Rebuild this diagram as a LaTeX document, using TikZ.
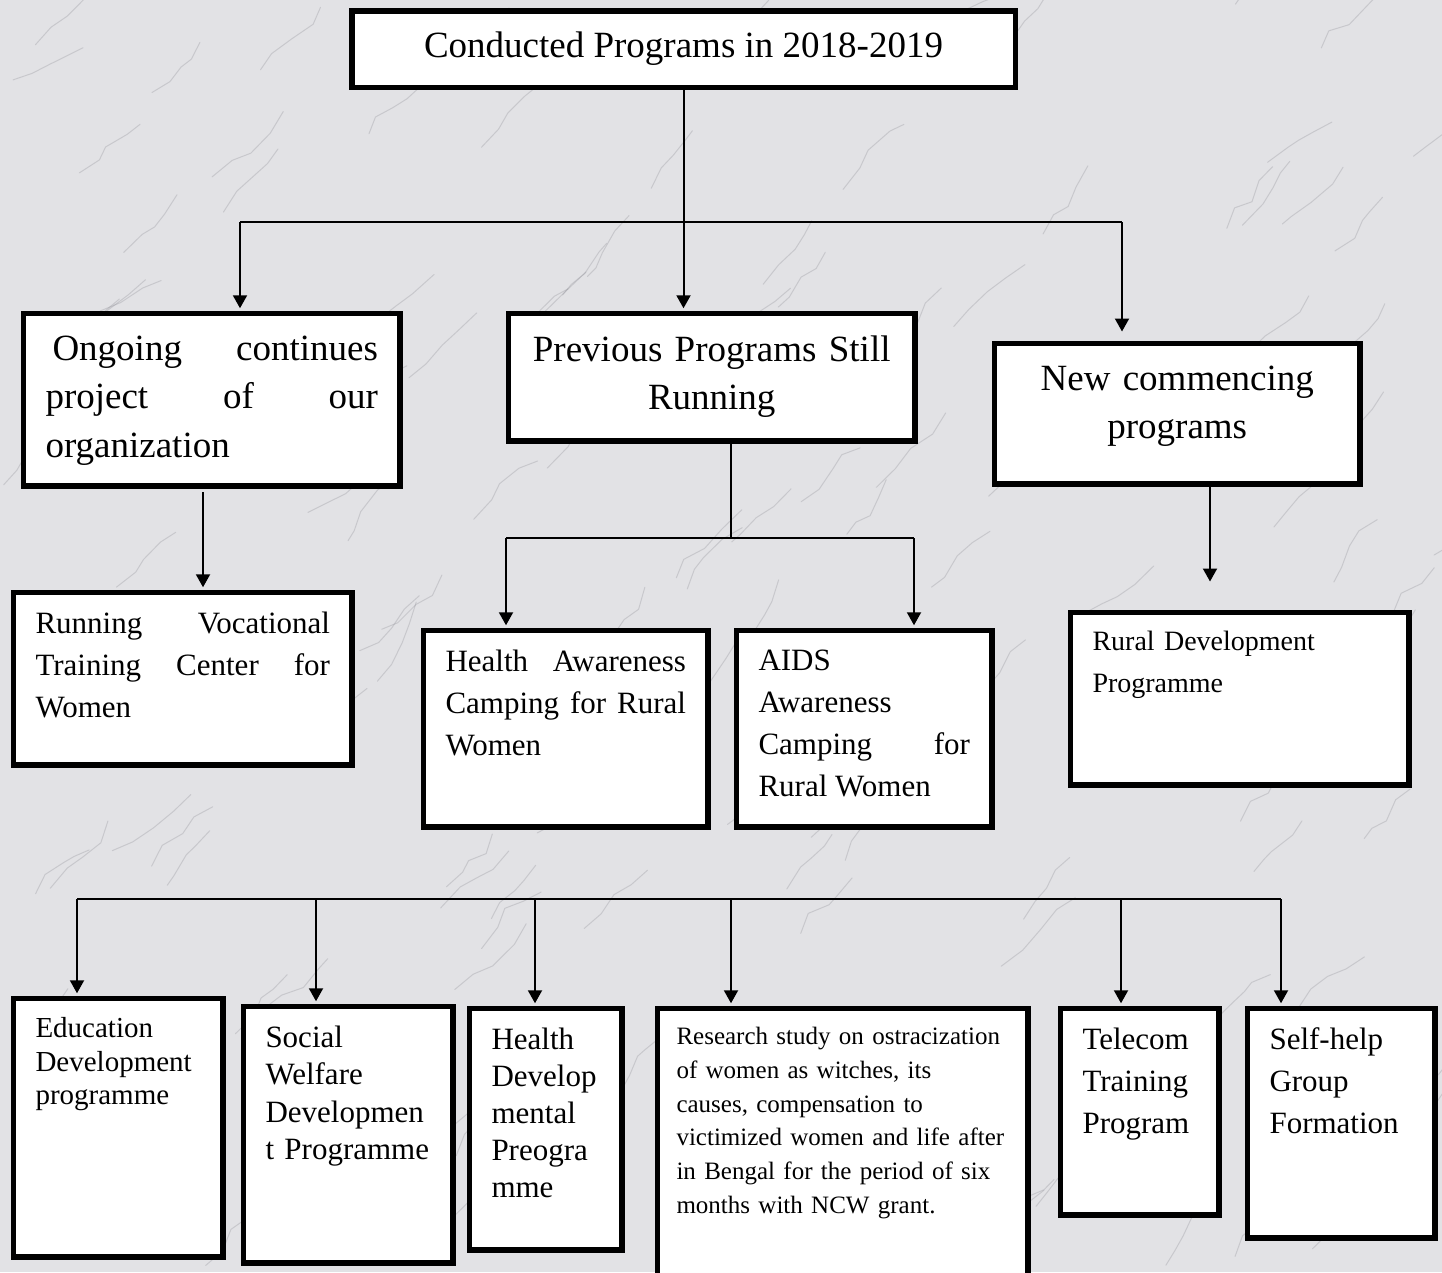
\documentclass[tikz,border=0pt]{standalone}
\usepackage{fontspec}
\setmainfont{Liberation Serif}
\usetikzlibrary{
  arrows.meta,
  positioning,
}
\newcommand{\progtext}[2]{\vbox to #1{\hyphenpenalty=10000 #2\par\vfil}}
\definecolor{marble}{RGB}{226,226,229}
\definecolor{veingray}{RGB}{140,140,148}
\tikzset{
  prog/.style={
    draw,
    line width=5.5pt,
    fill=white,
    anchor=north west,
    inner xsep=22pt,
    inner ysep=19pt,
    font=\fontsize{31}{42}\selectfont
  },
  prog big/.style={
    prog,
    inner ysep=22pt,
    font=\fontsize{37}{48.5}\selectfont
  },
  link/.style={
    line width=2pt
  },
  to box/.style={
    link,
    -{Triangle[length=13pt,width=14pt]},
    shorten >=2.5pt
  },
  vein/.style={
    draw=veingray,
    line width=1pt,
    opacity=0.3,
    line cap=round,
    line join=round
  }
}

\begin{document}
\begin{tikzpicture}[x=1pt,y=-1pt]
\useasboundingbox (0,0) rectangle (1442,1272);
\clip (0,0) rectangle (1442,1272);
\fill[marble] (0,0) rectangle (1442,1272);
% marble veins
\pgfmathsetseed{42}
\foreach \v in {1,...,140}{
  \pgfmathsetmacro\vx{rnd*1442}
  \pgfmathsetmacro\vy{rnd*1272}
  \draw[vein] (\vx,\vy) \foreach \s in {1,...,4}{ -- ++({6+rnd*16},{-6-rnd*16}) };
}

% level 0
\node[prog big, anchor=center, align=center, inner sep=0pt,
      minimum width=663.5pt, minimum height=76.5pt] (conducted) at (683.5,49)
  {Conducted Programs in 2018-2019};

% level 1
\node[prog big, text width=332.5pt, align=justify] (ongoing) at (20.75,310.75)
  {\progtext{128.5pt}{\hspace*{7pt}Ongoing continues\linebreak project of our\linebreak organization}};
\node[prog big, text width=362.5pt, align=center] (previous) at (505.75,310.75)
  {\progtext{83.5pt}{Previous Programs Still\\Running}};
\node[prog big, text width=321.5pt, align=center] (new) at (991.75,340.75)
  {\progtext{96.5pt}{New commencing\\programs}};

% level 2
\node[prog, text width=294.5pt, align=justify] (running) at (10.75,589.75)
  {\progtext{134.5pt}{Running Vocational\linebreak Training Center for\linebreak Women}};
\node[prog, text width=240.5pt, align=justify] (healthaw) at (420.75,627.75)
  {\progtext{158.5pt}{Health Awareness\linebreak Camping for Rural\linebreak Women}};
\node[prog, text width=211.5pt, align=justify] (aids) at (733.75,627.75)
  {\progtext{158.5pt}{AIDS\linebreak Awareness\linebreak Camping for\linebreak Rural Women}};
\node[prog, text width=294.5pt, align=left, font=\fontsize{28}{42}\selectfont] (rural) at (1067.75,609.75)
  {\progtext{134.5pt}{Rural Development\\Programme}};

% level 3
\node[prog, text width=165.5pt, align=left, font=\fontsize{29}{33.5}\selectfont] (education) at (10.75,995.75)
  {\progtext{220.5pt}{Education\\Development\\programme}};
\node[prog, text width=165.5pt, align=left, font=\fontsize{31}{37.5}\selectfont] (social) at (240.75,1003.75)
  {\progtext{218.5pt}{Social\\Welfare\\Developmen\\t Programme}};
\node[prog, text width=108.5pt, align=left, font=\fontsize{31}{37}\selectfont] (healthdev) at (466.75,1005.75)
  {\progtext{203.5pt}{Health\\Develop\\mental\\Preogra\\mme}};
\node[prog, text width=332.5pt, inner xsep=19pt, align=left, font=\fontsize{25}{33.7}\selectfont] (research) at (654.75,1005.75)
  {\progtext{243.5pt}{Research study on ostracization\\of women as witches, its\\causes, compensation to\\victimized women and life after\\in Bengal for the period of six\\months with NCW grant.}};
\node[prog, text width=114.5pt, align=left] (telecom) at (1057.75,1005.75)
  {\progtext{168.5pt}{Telecom\\Training\\Program}};
\node[prog, text width=143.5pt, align=left] (selfhelp) at (1244.75,1005.75)
  {\progtext{191.5pt}{Self-help\\Group\\Formation}};

% connectors from the top
\coordinate (topL) at (240,222);
\coordinate (topR) at (1122,222);
\coordinate (newIn) at (1122,334);
\draw[link] (topL) -- (topR);
\draw[to box] (conducted.south) -- (conducted.south |- previous.north);
\draw[to box] (topL) -- (topL |- ongoing.north);
\draw[to box] (topR) -- (newIn);

% connectors to level 2
\coordinate (ongDown) at (203,492);
\draw[to box] (ongDown) -- (ongDown |- running.north);
\coordinate (prevFork) at (731,538);
\coordinate (forkL) at (506,538);
\coordinate (forkR) at (914,538);
\draw[link] (prevFork |- previous.south) -- (prevFork);
\draw[link] (forkL) -- (forkR);
\draw[to box] (forkL) -- (forkL |- healthaw.north);
\draw[to box] (forkR) -- (forkR |- aids.north);
\coordinate (ruralIn) at (1210,584);
\draw[to box] (ruralIn |- new.south) -- (ruralIn);

% bottom row
\coordinate (botL) at (77,899);
\coordinate (botR) at (1281,899);
\draw[link] (botL) -- (botR);
\foreach \tx/\dst in {77/education,316/social,535/healthdev,731/research,1121/telecom,1281/selfhelp}
  \draw[to box] (\tx,899) -- (\tx,0 |- \dst.north);
\end{tikzpicture}
\end{document}
